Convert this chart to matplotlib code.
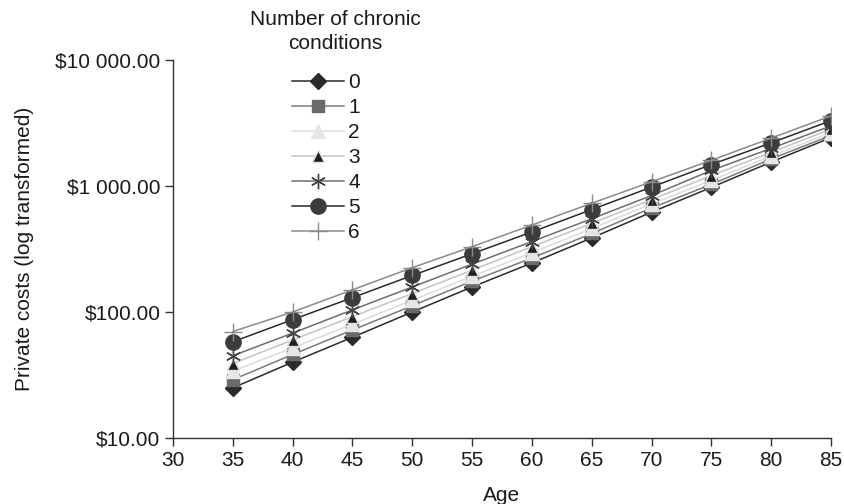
import matplotlib
matplotlib.use("Agg")
import matplotlib.pyplot as plt
from matplotlib.ticker import FixedLocator, FixedFormatter

plt.rcParams['font.family'] = ['Liberation Sans', 'DejaVu Sans']

ages = [35, 40, 45, 50, 55, 60, 65, 70, 75, 80, 85]
labels = ['0', '1', '2', '3', '4', '5', '6']
s0 = [25, 40, 63, 100, 158, 245, 387, 620, 975, 1550, 2420]
s1 = [29, 46, 72, 112, 176, 268, 420, 670, 1030, 1640, 2520]
s2 = [34, 52, 80, 124, 192, 295, 460, 720, 1110, 1730, 2650]
s3 = [39, 60, 92, 140, 215, 330, 505, 780, 1210, 1850, 2830]
s4 = [45, 68, 104, 158, 240, 362, 550, 840, 1330, 1990, 3000]
s5 = [58, 87, 130, 195, 290, 432, 650, 980, 1480, 2200, 3300]
s6 = [70, 100, 150, 225, 330, 490, 730, 1080, 1600, 2400, 3600]
series = [s0, s1, s2, s3, s4, s5, s6]

yticks = [10, 100, 1000, 10000]
ytick_labels = ['$10.00', '$100.00', '$1 000.00', '$10 000.00']
xticks = [30, 35, 40, 45, 50, 55, 60, 65, 70, 75, 80, 85]

styles = [
    dict(marker='D', ms=8.5, color='#2a2a2a', mfc='#2a2a2a', mec='#2a2a2a'),
    dict(marker='s', ms=9, color='#7a7a7a', mfc='#6a6a6a', mec='#6a6a6a'),
    dict(marker='^', ms=10, color='#dcdcdc', mfc='#e6e6e6', mec='#e6e6e6'),
    dict(marker='^', ms=9, color='#c4c4c4', mfc='#1e1e1e', mec='#e0e0e0'),
    dict(marker=(6, 2, 0), ms=11, color='#6e6e6e', mfc='#444444', mec='#444444'),
    dict(marker='o', ms=11, color='#2a2a2a', mfc='#3c3c3c', mec='#3c3c3c'),
    dict(marker='+', ms=13, color='#8a8a8a', mfc='#8a8a8a', mec='#8a8a8a'),
]

FS = 15
TC = '#1a1a1a'

fig = plt.figure(figsize=(8.44, 5.04), dpi=100)
ax = fig.add_axes([173/844, 1-438/504, (831-173)/844, (438-60)/504])

for lab, ys, st in zip(labels, series, styles):
    ax.plot(ages, ys, label=lab, lw=1.1, mew=1.0, **st)

ax.set_yscale('log')
ax.set_xlim(30, 85)
ax.set_ylim(10, 10000)
ax.yaxis.set_major_locator(FixedLocator(yticks))
ax.yaxis.set_major_formatter(FixedFormatter(ytick_labels))
ax.yaxis.set_minor_locator(FixedLocator([]))
ax.set_xticks(xticks)
ax.tick_params(axis='both', labelsize=FS, length=6, width=1.0, color='#333333',
               labelcolor=TC, direction='out', pad=3)
for s in ['top', 'right']:
    ax.spines[s].set_visible(False)
for s in ['left', 'bottom']:
    ax.spines[s].set_color('#333333')
    ax.spines[s].set_linewidth(1.0)

ax.set_xlabel('Age', fontsize=FS, labelpad=12, color=TC)
ax.set_ylabel('Private costs (log transformed)', fontsize=FS, labelpad=15, color=TC)

fig.text(335/844, 1-10/504, 'Number of chronic\nconditions', ha='center', va='top',
         multialignment='center', fontsize=FS, color=TC, linespacing=1.35)

leg = fig.legend(loc='upper left', bbox_to_anchor=(292/844, 1-73/504),
                 frameon=False, fontsize=FS, handlelength=2.5, labelspacing=0.29,
                 handletextpad=0.2, borderpad=0.0, borderaxespad=0.0)
for t in leg.get_texts():
    t.set_color(TC)

fig.savefig('out.png', dpi=100)
